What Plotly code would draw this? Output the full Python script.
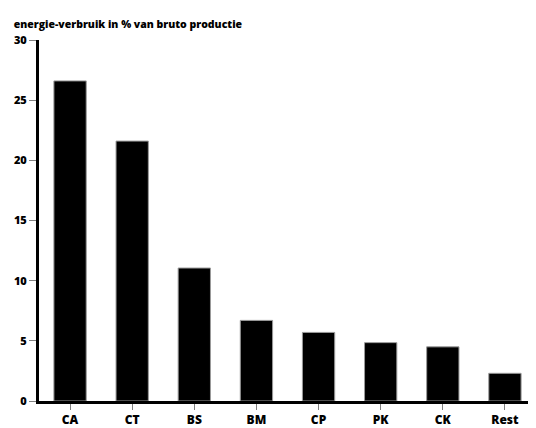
import plotly.graph_objects as go

categories = ["CA", "CT", "BS", "BM", "CP", "PK", "CK", "Rest"]
energy_pct = [26.6, 21.6, 11.05, 6.7, 5.7, 4.85, 4.5, 2.3]
y_ticks = [0, 5, 10, 15, 20, 25, 30]

FONT = "Open Sans"

fig = go.Figure(
    go.Bar(
        x=categories, y=energy_pct,
        marker=dict(color="black", line=dict(color="#9a9a9a", width=1)),
        width=0.52,
    )
)

# the page adds an 8px body margin, so the figure is sized/offset to fit the window
fig.update_layout(
    width=528, height=420,
    margin=dict(l=31, r=0, t=32, b=25),
    plot_bgcolor="white", paper_bgcolor="white",
    showlegend=False,
    font=dict(family=FONT, size=12, color="black", weight=800),
    title=dict(
        text="energie-verbruik in % van bruto productie",
        font=dict(family=FONT, size=10.5, color="black", weight=800),
        xref="container", yref="container",
        x=0.011, y=0.962, xanchor="left", yanchor="middle",
    ),
)

fig.update_xaxes(
    range=[-0.5, 7.5],
    showline=True, linecolor="black", linewidth=3,
    ticks="outside", ticklen=6, tickcolor="#808080", tickwidth=1,
    showgrid=False, zeroline=False,
    tickfont=dict(size=12),
)

fig.update_yaxes(
    range=[0, 30], tickvals=y_ticks,
    showline=True, linecolor="black", linewidth=3,
    ticks="outside", ticklen=7, tickcolor="#808080", tickwidth=1,
    showgrid=False, zeroline=False,
    tickfont=dict(size=11),
)

fig.write_html("out.html")
